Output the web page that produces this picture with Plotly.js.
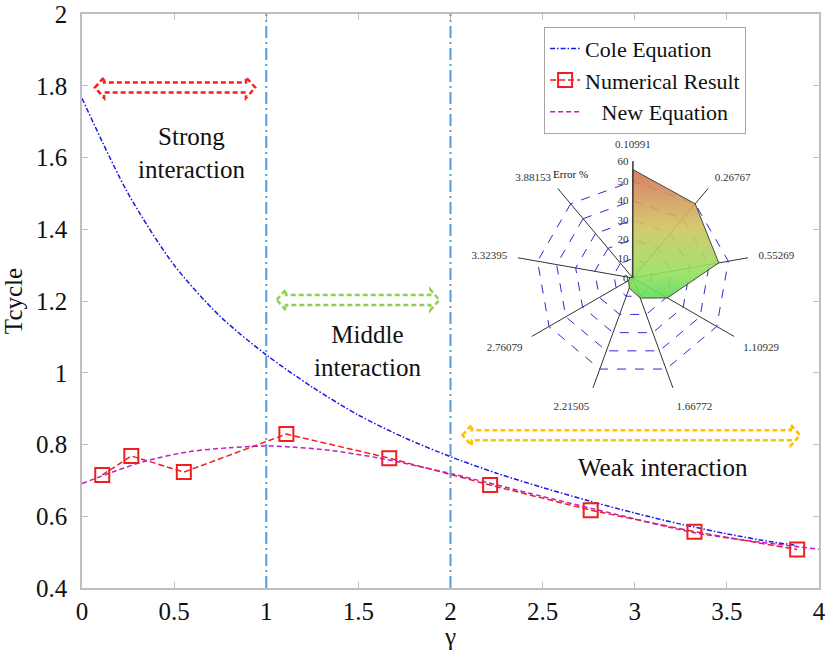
<!DOCTYPE html>
<html>
<head>
<meta charset="utf-8">
<script src="https://cdn.plot.ly/plotly-3.0.1.min.js"></script>
<style>
html,body{margin:0;padding:0;background:#fff;}
#chart{width:826px;height:650px;}
#warm{position:absolute;left:-2000px;top:0;font-family:"Liberation Serif";font-size:25px;}
</style>
</head>
<body>
<div id="warm">Cole Equation Numerical Result New Equation Strong interaction Middle Weak Tcycle γ 0.123456789</div>
<div id="chart"></div>
<script>
// ---- data ----
const gammaNum = [0.10991, 0.26767, 0.55269, 1.10929, 1.66772, 2.21505, 2.76079, 3.32395, 3.88153];
const tNum     = [0.715, 0.768, 0.723, 0.829, 0.762, 0.687, 0.617, 0.557, 0.507];

const gammaCole = [0, 0.25, 0.5, 0.75, 1.0, 1.25, 1.5, 1.75, 2.0, 2.25, 2.5, 2.75, 3.0, 3.25, 3.5, 3.75, 3.88];
const tCole     = [1.765, 1.500, 1.300, 1.157, 1.050, 0.960, 0.882, 0.819, 0.766, 0.720, 0.680, 0.643, 0.609, 0.578, 0.551, 0.528, 0.519];

const gammaNew = [0, 0.17, 0.346, 0.582, 0.8, 1.0, 1.107, 1.342, 1.614, 1.977, 2.5, 2.918, 3.335, 4.0];
const tNew     = [0.691, 0.724, 0.754, 0.78, 0.791, 0.796, 0.794, 0.784, 0.762, 0.722, 0.655, 0.603, 0.553, 0.508];

const radarLabels = ['0.10991', '0.26767', '0.55269', '1.10929', '1.66772', '2.21505', '2.76079', '3.32395', '3.88153'];
const errorPct    = [56, 50, 45, 20.5, 11, 5.5, 2.5, 1.5, 0.5];

const regionBounds = [1, 2];
const regionNames  = ['Strong<br>interaction', 'Middle<br>interaction', 'Weak interaction'];
const regionTextX  = [0.596, 1.55, 3.155];
const regionTextY  = [1.613, 1.061, 0.737];
const arrowX0      = [0.07, 1.057, 2.065];
const arrowX1      = [0.94, 1.94, 3.897];
const arrowY       = [1.795, 1.203, 0.826];
const arrowColors  = ['#FF1A1A', '#92D050', '#FFC000'];

const xTicks = [0, 0.5, 1, 1.5, 2, 2.5, 3, 3.5, 4];
const yTicks = [0.4, 0.6, 0.8, 1, 1.2, 1.4, 1.6, 1.8, 2];

// ---- build ----
const FONT = 'Liberation Serif';

const traces = [
  {
    type: 'scatter', mode: 'lines', name: 'Cole Equation',
    x: gammaCole, y: tCole,
    line: {color: '#1A1AE6', width: 1.5, dash: '5px,2px,1.5px,2px', shape: 'spline', smoothing: 0.8}
  },
  {
    type: 'scatter', mode: 'lines+markers', name: 'Numerical Result',
    x: gammaNum, y: tNum,
    line: {color: '#F01E1E', width: 1.5, dash: '6px,3px'},
    marker: {symbol: 'square-open', size: 14, color: '#F01E1E', line: {width: 2, color: '#F01E1E'}}
  },
  {
    type: 'scatter', mode: 'lines', name: '\u00a0\u00a0\u00a0New Equation',
    x: gammaNew, y: tNew,
    line: {color: '#C020C0', width: 1.5, dash: '5px,3px', shape: 'spline', smoothing: 0.8}
  },
  {
    type: 'scatterpolar', subplot: 'polar', showlegend: false,
    theta: radarLabels.concat([radarLabels[0]]),
    r: errorPct.concat([errorPct[0]]),
    mode: 'lines', fill: 'toself',
    fillcolor: 'rgba(190,200,95,0.9)',
    line: {color: '#4A4A3A', width: 1}
  }
];

const shapes = [];
regionBounds.forEach(b => shapes.push({
  type: 'line', xref: 'x', yref: 'paper', x0: b, x1: b, y0: 0, y1: 1,
  line: {color: '#5B9BD5', width: 2, dash: '12px,4px,2px,4px'}
}));
const sH = 0.014, hH = 0.029, hL = 0.05;
for (let i = 0; i < arrowX0.length; i++) {
  const a = arrowX0[i], b = arrowX1[i], y = arrowY[i];
  const p = `M${a},${y} L${a+hL},${y+hH} L${a+hL},${y+sH} L${b-hL},${y+sH} L${b-hL},${y+hH} L${b},${y} ` +
            `L${b-hL},${y-hH} L${b-hL},${y-sH} L${a+hL},${y-sH} L${a+hL},${y-hH} Z`;
  shapes.push({type: 'path', xref: 'x', yref: 'y', path: p,
    line: {color: arrowColors[i], width: 2.5, dash: '5px,3px'}});
}

const annotations = regionNames.map((t, i) => ({
  x: regionTextX[i], y: regionTextY[i], xref: 'x', yref: 'y', text: t, showarrow: false,
  font: {family: FONT, size: 25}, align: 'center'
}));
annotations.push({
  x: 0.689, y: 0.735, xref: 'paper', yref: 'paper', text: 'Error %', showarrow: false,
  font: {family: FONT, size: 11}
});

const axisCommon = {
  showline: true, linecolor: '#BFBFBF', linewidth: 1.5, mirror: 'ticks',
  ticks: 'inside', ticklen: 6, tickcolor: '#BFBFBF', tickwidth: 1,
  showgrid: false, zeroline: false,
  tickfont: {family: FONT, size: 25}
};

const layout = {
  width: 826, height: 650,
  margin: {l: 82, r: 7, t: 14, b: 62},
  paper_bgcolor: '#fff', plot_bgcolor: '#fff',
  font: {family: FONT, size: 20, color: '#111111'},
  xaxis: Object.assign({}, axisCommon, {
    range: [0, 4], tickvals: xTicks, ticklabelstandoff: 0,
    title: {text: '\u03b3', font: {family: FONT, size: 25}, standoff: 0}
  }),
  yaxis: Object.assign({}, axisCommon, {
    range: [0.4, 2], tickvals: yTicks, ticklabelstandoff: 8,
    title: {text: 'Tcycle', font: {family: FONT, size: 25}, standoff: 6}
  }),
  legend: {
    x: 0.627, y: 0.978, xanchor: 'left', yanchor: 'top',
    bgcolor: '#fff', bordercolor: '#A6A6A6', borderwidth: 1,
    font: {family: FONT, size: 22}, itemwidth: 30, tracegroupgap: 0
  },
  polar: {
    domain: {x: [0.589, 0.906], y: [0.336, 0.744]},
    bgcolor: 'rgba(0,0,0,0)',
    gridshape: 'linear',
    radialaxis: {
      range: [0, 60.3], tickvals: [0, 10, 20, 30, 40, 50, 60], angle: 90, tickangle: 90,
      side: 'counterclockwise', showline: true, linecolor: '#333', linewidth: 1,
      gridcolor: '#2A2AD8', griddash: 'dash', gridwidth: 1, ticks: '',
      tickfont: {family: FONT, size: 11, color: '#333'}
    },
    angularaxis: {
      type: 'category', categoryarray: radarLabels, direction: 'clockwise', rotation: 90,
      showline: false, gridcolor: '#333', gridwidth: 1,
      ticks: 'outside', ticklen: 8, tickcolor: 'rgba(0,0,0,0)',
      tickfont: {family: FONT, size: 11, color: '#333'}
    }
  },
  shapes: shapes,
  annotations: annotations
};

function draw() {
  return Plotly.newPlot('chart', traces, layout, {displayModeBar: false}).then(gd => {
    // vertical red->yellow->green gradient for the radar fill
    const svg = gd.querySelector('svg.main-svg');
    const NS = 'http://www.w3.org/2000/svg';
    let defs = svg.querySelector('defs');
    if (!defs) { defs = document.createElementNS(NS, 'defs'); svg.insertBefore(defs, svg.firstChild); }
    const g = document.createElementNS(NS, 'linearGradient');
    g.setAttribute('id', 'radarGrad');
    g.setAttribute('x1', '0'); g.setAttribute('y1', '0'); g.setAttribute('x2', '0'); g.setAttribute('y2', '1');
    [['0', 'rgb(214,112,88)'], ['0.45', 'rgb(208,196,96)'], ['0.8', 'rgb(150,224,95)'], ['1', 'rgb(95,220,90)']].forEach(s => {
      const st = document.createElementNS(NS, 'stop');
      st.setAttribute('offset', s[0]); st.setAttribute('stop-color', s[1]);
      g.appendChild(st);
    });
    defs.appendChild(g);
    gd.querySelectorAll('.polarlayer path.js-fill').forEach(p => { p.style.fill = 'url(#radarGrad)'; p.style.opacity = 1; });
  });
}

const fontReady = (document.fonts && document.fonts.load)
  ? Promise.all([document.fonts.load('25px "Liberation Serif"'), document.fonts.load('11px "Liberation Serif"')]).catch(() => null)
  : Promise.resolve();
fontReady.then(draw, draw);
</script>
</body>
</html>
